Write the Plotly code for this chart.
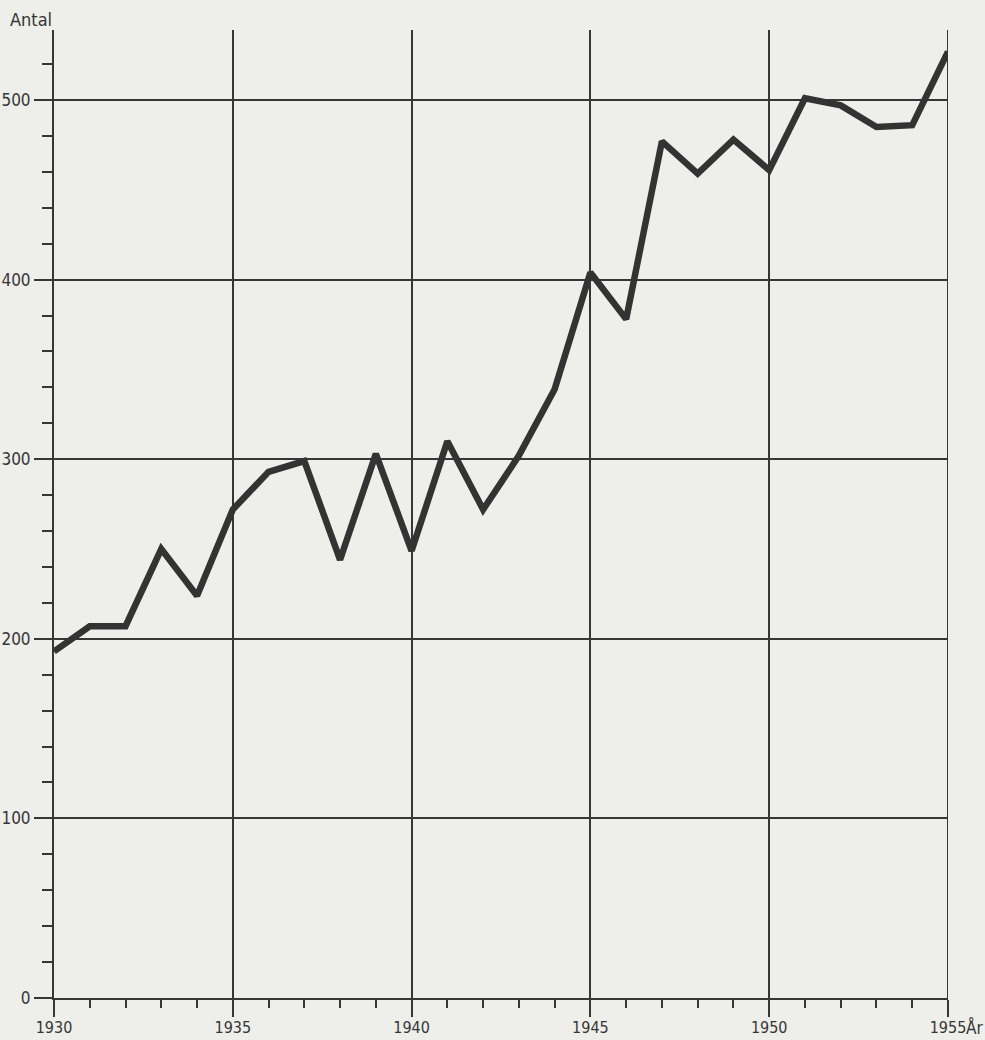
import plotly.graph_objects as go

years = list(range(1930, 1956))
antal = [193, 207, 207, 250, 224, 272, 293, 299, 244, 303, 249, 310, 272,
         302, 339, 404, 378, 477, 459, 478, 461, 501, 497, 485, 486, 527]

x_ticks = [1930, 1935, 1940, 1945, 1950, 1955]
x_labels = ["1930", "1935", "1940", "1945", "1950", "1955"]
y_ticks = [0, 100, 200, 300, 400, 500]

ink = "#363636"
paper = "#eeeeea"
font = dict(family="DejaVu Sans Condensed, Liberation Sans Narrow, sans-serif",
            size=17, color=ink)

fig = go.Figure()
fig.add_trace(go.Scatter(x=years, y=antal, mode="lines",
                         line=dict(color="#333333", width=6.5),
                         cliponaxis=False, hoverinfo="skip"))

fig.update_layout(
    width=985, height=1040,
    margin=dict(l=54, r=37, t=30, b=42, autoexpand=False),
    paper_bgcolor=paper, plot_bgcolor=paper,
    showlegend=False, font=font,
    xaxis=dict(range=[1930, 1955], tickmode="array", tickvals=x_ticks,
               ticktext=x_labels, automargin=False, ticklabelstandoff=-3,
               tickfont=dict(font, size=16),
               showgrid=True, gridcolor=ink, gridwidth=1.5,
               showline=True, linecolor=ink, linewidth=2,
               ticks="outside", ticklen=17, tickwidth=1.5, tickcolor=ink,
               minor=dict(dtick=1, ticks="outside", ticklen=8, tickwidth=1.5,
                          tickcolor=ink, showgrid=False),
               zeroline=False, fixedrange=True),
    yaxis=dict(range=[0, 539], tickmode="array", tickvals=y_ticks,
               ticktext=[str(v) for v in y_ticks], automargin=False,
               showgrid=True, gridcolor=ink, gridwidth=1.5,
               showline=True, linecolor=ink, linewidth=2,
               ticks="outside", ticklen=18, tickwidth=1.5, tickcolor=ink,
               minor=dict(dtick=20, ticks="outside", ticklen=10, tickwidth=1.5,
                          tickcolor=ink, showgrid=False),
               zeroline=False, fixedrange=True),
)

fig.add_shape(type="line", xref="x", yref="paper", x0=1955, x1=1955, y0=0, y1=1,
              line=dict(color=ink, width=2))

fig.add_annotation(text="Antal", xref="paper", yref="paper", x=-0.0515, y=1.0,
                   xanchor="left", yanchor="bottom", yshift=-2, showarrow=False,
                   font=dict(font, size=18))
fig.add_annotation(text="År", xref="paper", yref="paper", x=1.0414, y=0,
                   xanchor="right", yanchor="top", yshift=-17, showarrow=False,
                   font=font)

fig.write_html("out.html", config={"displayModeBar": False},
               post_script="document.body.style.margin='0';")
